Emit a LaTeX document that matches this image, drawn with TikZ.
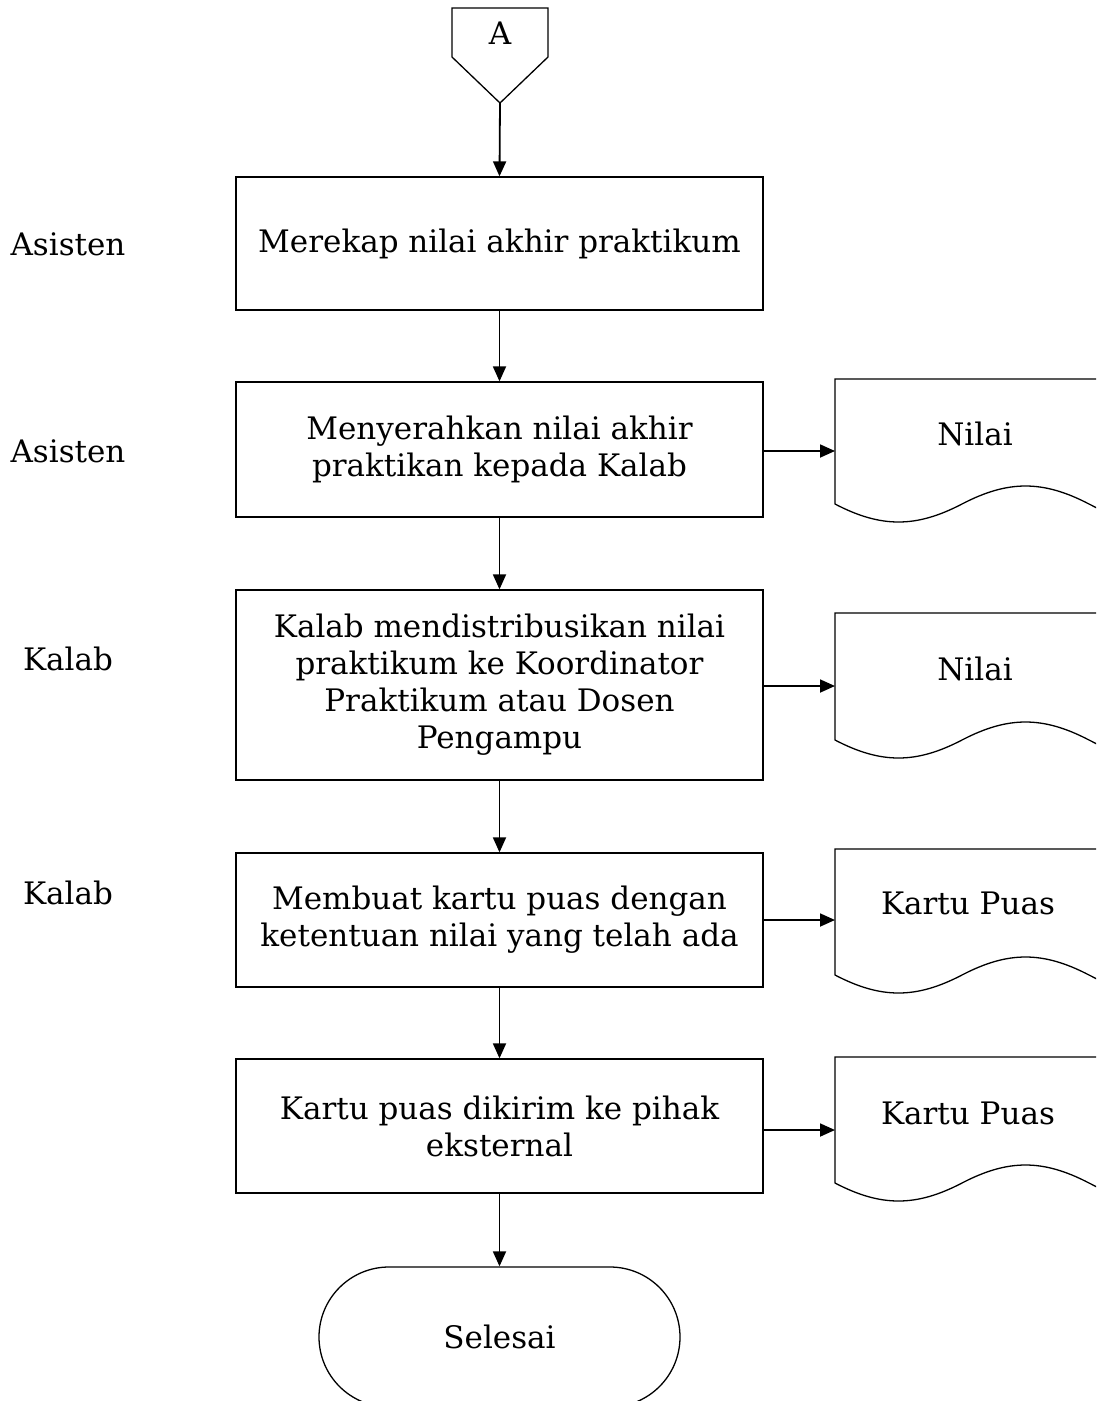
\documentclass[tikz,border=0pt]{standalone}
\usepackage{fontspec}
\setmainfont{DejaVu Serif}
\usetikzlibrary{arrows.meta,shapes.misc}
\tikzset{
  txt/.style={font=\fontsize{31}{37}\selectfont},
  proc/.style={txt,draw,line width=1.3pt,minimum width=527pt,align=center,inner sep=0pt},
  lbl/.style={txt,inner sep=0pt},
  doctext/.style={txt,inner sep=0pt},
  docline/.style={line width=1.3pt},
  conn/.style={line width=1.8pt,-{Triangle[length=15pt,width=13pt]}},
}
\begin{document}
\begin{tikzpicture}[x=1pt,y=-1pt]
\useasboundingbox (0,0) rectangle (1096,1401);
\clip (0,0) rectangle (1096,1401);
% off-page connector
\draw[docline] (452,8) -- (548,8) -- (548,57) -- (500,103) -- (452,57) -- cycle;
\node[lbl] (A) at (500,33) {A};
\coordinate (Atip) at (500,103);
% lane labels
\node[lbl] (l1) at (68,244) {Asisten};
\node[lbl] (l2) at (68,451) {Asisten};
\node[lbl] (l3) at (68,659) {Kalab};
\node[lbl] (l4) at (68,893) {Kalab};
% process boxes
\node[proc,minimum height=133pt] (b1) at (499.5,243.5) {Merekap nilai akhir praktikum};
\node[proc,minimum height=135pt] (b2) at (499.5,449.5) {Menyerahkan nilai akhir\\praktikan kepada Kalab};
\node[proc,minimum height=190pt] (b3) at (499.5,685) {Kalab mendistribusikan nilai\\praktikum ke Koordinator\\Praktikum atau Dosen\\Pengampu};
\node[proc,minimum height=134pt] (b4) at (499.5,920) {Membuat kartu puas dengan\\ketentuan nilai yang telah ada};
\node[proc,minimum height=134pt] (b5) at (499.5,1126) {Kartu puas dikirim ke pihak\\eksternal};
% terminal
\node[txt,draw,line width=1.3pt,rounded rectangle,minimum width=361pt,minimum height=140pt,inner sep=0pt] (end) at (499.5,1337) {Selesai};
% documents
\foreach \t/\b/\n in {379/504/d1,613/740/d2,849/975/d3,1057/1183/d4}{
  \draw[docline] (1120,\t) -- (835,\t) -- (835,\b)
     .. controls (881,\b+24) and (916,\b+24) .. (962,\b)
     .. controls (1008,\b-24) and (1043,\b-24) .. (1089,\b)
     .. controls (1105,\b+8) and (1115,\b+14) .. (1125,\b+18);
  \coordinate (\n) at (835,\t);
}
\node[doctext] (t1) at (975,434) {Nilai};
\node[doctext] (t2) at (975,669) {Nilai};
\node[doctext] (t3) at (968,903) {Kartu Puas};
\node[doctext] (t4) at (968,1113) {Kartu Puas};
% connectors
\draw[conn] (Atip) -- (b1.north);
\draw[conn] (b1.south) -- (b2.north);
\draw[conn] (b2.south) -- (b3.north);
\draw[conn] (b3.south) -- (b4.north);
\draw[conn] (b4.south) -- (b5.north);
\draw[conn] (b5.south) -- (end.north);
\draw[conn] (763,451) -- (d1 |- 0,451);
\draw[conn] (763,686) -- (d2 |- 0,686);
\draw[conn] (763,920) -- (d3 |- 0,920);
\draw[conn] (763,1130) -- (d4 |- 0,1130);
\end{tikzpicture}
\end{document}
